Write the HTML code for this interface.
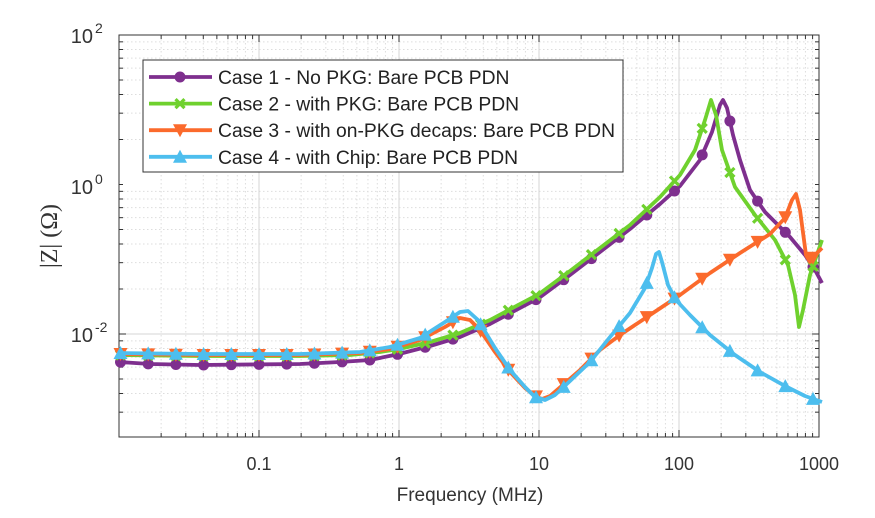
<!DOCTYPE html>
<html><head><meta charset="utf-8"><style>
body{margin:0;background:#fff;}
svg{display:block;font-family:"Liberation Sans",Arial,sans-serif;}
</style></head><body>
<svg id="s" width="875" height="518" viewBox="0 0 875 518" xmlns="http://www.w3.org/2000/svg"></svg>
<script>
const S=document.getElementById('s');
const L=119,R=819,T=35,B=437;
const X=f=>L+(Math.log10(f)+2)*140;
const Y=z=>T+(2-Math.log10(z))*149.5;
let h='<rect x="'+L+'" y="'+T+'" width="'+(R-L)+'" height="'+(B-T)+'" fill="#fff"/>';
for(let d=-2;d<3;d++){for(let m=2;m<10;m++){let x=X(m*Math.pow(10,d));h+=`<line x1="${x}" y1="${T}" x2="${x}" y2="${B}" stroke="#ddd" stroke-dasharray="1.5,2.5"/>`;}}
for(let d=-3;d<2;d++){for(let m=1;m<10;m++){let y=Y(m*Math.pow(10,d));if(y>B||y<T)continue;if(m==1)continue;h+=`<line x1="${L}" y1="${y}" x2="${R}" y2="${y}" stroke="#ddd" stroke-dasharray="1.5,2.5"/>`;}}
for(let d=-1;d<3;d++){let x=X(Math.pow(10,d));h+=`<line x1="${x}" y1="${T}" x2="${x}" y2="${B}" stroke="#d4d4d4"/>`;}
[0,-2].forEach(e=>{let y=Y(Math.pow(10,e));h+=`<line x1="${L}" y1="${y}" x2="${R}" y2="${y}" stroke="#d4d4d4"/>`;});
for(let d=-2;d<3;d++){for(let m=1;m<10;m++){let x=X(m*Math.pow(10,d));let l=m==1?7:4;h+=`<line x1="${x}" y1="${B}" x2="${x}" y2="${B-l}" stroke="#333"/><line x1="${x}" y1="${T}" x2="${x}" y2="${T+l}" stroke="#333"/>`;}}
for(let d=-3;d<3;d++){for(let m=1;m<10;m++){let y=Y(m*Math.pow(10,d));if(y>B+0.5||y<T-0.5)continue;let l=(m==1&&d%2==0)?7:4;h+=`<line x1="${L}" y1="${y}" x2="${L+l}" y2="${y}" stroke="#333"/><line x1="${R}" y1="${y}" x2="${R-l}" y2="${y}" stroke="#333"/>`;}}
h+=`<rect x="${L}" y="${T}" width="${R-L}" height="${B-T}" fill="none" stroke="#333" stroke-width="1"/>`;
[["0.1",0.1],["1",1],["10",10],["100",100],["1000",1000]].forEach(a=>{h+=`<text x="${X(a[1])}" y="470" font-size="18" fill="#333" text-anchor="middle">${a[0]}</text>`;});
[[2,43],[0,194],[-2,342]].forEach(a=>{h+=`<text x="93" y="${a[1]}" font-size="20" fill="#333" text-anchor="end">10</text><text x="95" y="${a[1]-10}" font-size="14" fill="#333">${a[0]}</text>`;});
h+=`<text x="470" y="501" font-size="19" fill="#333" text-anchor="middle">Frequency (MHz)</text>`;
h+=`<text transform="translate(57,236) rotate(-90)" fill="#333" text-anchor="middle" style="font-family:'Liberation Serif',serif;font-size:24px">|Z| (Ω)</text>`;
const c1=[[119,362],[150,364],[200,365],[300,364],[340,362],[370,360],[399,354],[430,346],[460,337],[490,324],[520,308],[539,298],[570,275],[600,252],[630,229],[660,204],[680,186],[700,160],[712,132],[720,105],[723,100],[727,108],[733,135],[740,160],[750,190],[765,212],[790,237],[805,255],[815,270],[822,283]];
const c2=[[119,355],[200,356],[300,356],[350,355],[380,352],[399,349],[430,342],[460,333],[490,320],[520,304],[539,294],[570,271],[600,248],[630,225],[660,197],[680,175],[695,150],[705,120],[711,100],[716,115],[722,150],[735,187],[755,215],[775,240],[788,265],[795,295],[799,327],[803,310],[810,275],[822,240]];
const c3=[[119,354],[200,355],[300,355],[360,353],[390,349],[420,340],[445,327],[460,318],[470,320],[480,330],[495,352],[510,372],[525,388],[535,396],[542,399],[550,396],[565,383],[580,370],[600,350],[620,335],[650,315],[680,295],[710,273],[740,253],[770,234],[785,218],[792,200],[796,194],[800,210],[806,255],[810,262],[815,255],[822,248]];
const c4=[[119,353],[200,354],[300,354],[360,352],[390,347],[420,338],[445,322],[460,312],[468,311],[478,320],[495,348],[510,370],[525,387],[535,397],[545,400],[555,395],[570,381],[590,362],[610,337],[630,313],[645,288],[652,268],[656,254],[659,252],[662,262],[668,285],[676,300],[690,315],[710,335],[735,355],[760,372],[785,386],[805,396],[822,402]];
function interp(p,x){for(let i=0;i<p.length-1;i++){if(x>=p[i][0]&&x<=p[i+1][0]){let t=(x-p[i][0])/(p[i+1][0]-p[i][0]);return p[i][1]+t*(p[i+1][1]-p[i][1]);}}return p[p.length-1][1];}
function path(p){return 'M'+p.map(a=>a.join(',')).join(' L');}
const mk=[];for(let k=-15;k<=10;k++){let x=536+27.7*k;if(x>=119&&x<=822)mk.push(x);}
function marker(type,x,y,col){
 if(type=='o')return `<circle cx="${x}" cy="${y}" r="5.5" fill="${col}"/>`;
 if(type=='x')return `<path d="M${x-4.5},${y-4.5}L${x+4.5},${y+4.5}M${x-4.5},${y+4.5}L${x+4.5},${y-4.5}" stroke="${col}" stroke-width="3.2"/>`;
 if(type=='v')return `<path d="M${x-7},${y-6}L${x+7},${y-6}L${x},${y+7}Z" fill="${col}"/>`;
 return `<path d="M${x-7},${y+6}L${x+7},${y+6}L${x},${y-7}Z" fill="${col}"/>`;
}
const series=[[c1,'#7e2f8e','o'],[c2,'#6fd12e','x'],[c3,'#fb6a2c','v'],[c4,'#4dbeee','^']];
series.forEach(s=>{h+=`<path d="${path(s[0])}" fill="none" stroke="${s[1]}" stroke-width="3.8" stroke-linejoin="round"/>`;mk.forEach(x=>{h+=marker(s[2],x,interp(s[0],x),s[1]);});});
h+=`<rect x="143" y="60" width="480" height="112" fill="#fff" stroke="#333"/>`;
const names=["Case 1 - No PKG: Bare PCB PDN","Case 2 - with PKG: Bare PCB PDN","Case 3 - with on-PKG decaps: Bare PCB PDN","Case 4 - with Chip: Bare PCB PDN"];
series.forEach((s,i)=>{
 let y=77+26.6*i;
 let tl=(i==2)?' textLength="397"':'';
 h+=`<line x1="149" y1="${y}" x2="212" y2="${y}" stroke="${s[1]}" stroke-width="3.8"/>`;
 h+=marker(s[2],180,y,s[1]);
 h+=`<text x="218" y="${y+7}"${tl} font-size="19.3" fill="#222">${names[i]}</text>`;
});
S.innerHTML=h;
</script>
</body></html>
